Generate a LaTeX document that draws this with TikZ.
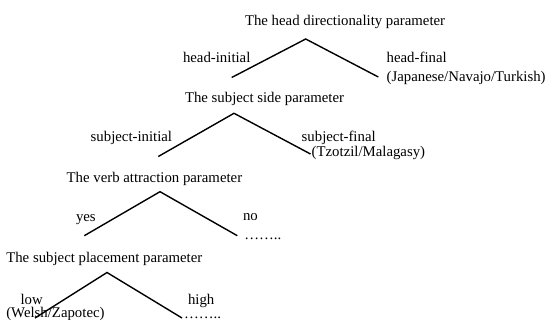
\documentclass[tikz,border=0pt]{standalone}
\usepackage{fontspec}
\setmainfont{Liberation Serif}
\tikzset{
  lbl/.style={anchor=base west, inner sep=0pt, outer sep=0pt, font=\fontsize{14.8}{17}\selectfont},
  branch/.style={line width=1.4pt, line cap=butt}
}
\begin{document}
\begin{tikzpicture}[x=1pt,y=-1pt]
\useasboundingbox (0,0) rectangle (548,320);
% Tree 1
\node[lbl] (t1) at (245,26) {The head directionality parameter};
\coordinate (a1) at (305.7,39);
\coordinate (l1) at (231.7,77.5);
\coordinate (r1) at (378.3,77);
\node[lbl] (hi) at (183,62.3) {head-initial};
\node[lbl] (hf) at (386.7,63) {head-final};
\node[lbl] (jnt) at (386.7,81.5) {(Japanese/Navajo/Turkish)};
\draw[branch] (l1) -- (a1) -- (r1);
% Tree 2
\node[lbl] (t2) at (185,103) {The subject side parameter};
\coordinate (a2) at (234,113.3);
\coordinate (l2) at (158.3,156.5);
\coordinate (r2) at (310.5,154);
\node[lbl] (si) at (90.7,142) {subject-initial};
\node[lbl] (sf) at (301.7,141.5) {subject-final};
\node[lbl] (tm) at (311.7,157) {(Tzotzil/Malagasy)};
\draw[branch] (l2) -- (a2) -- (r2);
% Tree 3
\node[lbl] (t3) at (66.7,183) {The verb attraction parameter};
\coordinate (a3) at (160,191.7);
\coordinate (l3) at (84.3,235.7);
\coordinate (r3) at (237.3,235.7);
\node[lbl] (yes) at (76,221.5) {yes};
\node[lbl] (no) at (243,220.5) {no};
\node[lbl] (d3) at (244.3,240) {……..};
\draw[branch] (l3) -- (a3) -- (r3);
% Tree 4
\node[lbl] (t4) at (6.3,262) {The subject placement parameter};
\coordinate (a4) at (107,272.5);
\coordinate (l4) at (35,318);
\coordinate (r4) at (182,318);
\node[lbl] (low) at (20.5,304) {low};
\node[lbl] (high) at (188,304) {high};
\node[lbl] (wz) at (6.3,317.5) {(Welsh/Zapotec)};
\node[lbl] (d4) at (184,318) {……..};
\draw[branch] (l4) -- (a4) -- (r4);
\end{tikzpicture}
\end{document}
